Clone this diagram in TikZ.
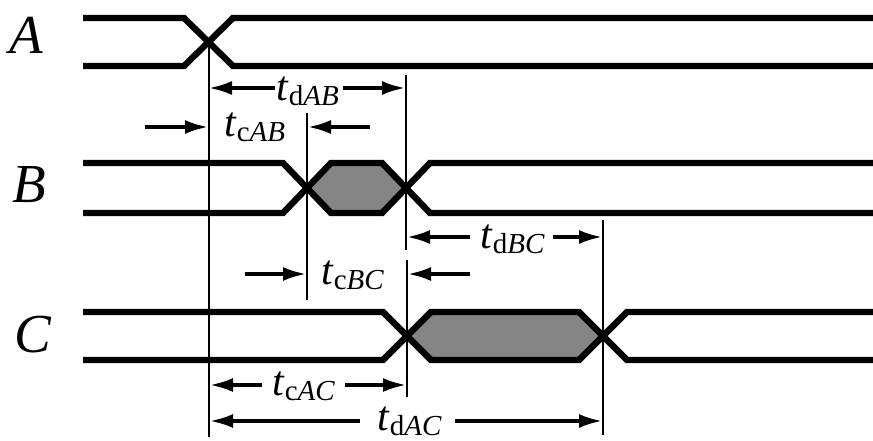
\documentclass[tikz,border=0pt]{standalone}
\usepackage{fontspec}
\setmainfont{Liberation Serif}
\usetikzlibrary{arrows.meta}
\newcommand{\tlab}[2]{{\fontsize{42}{42}\selectfont\itshape t}\kern1pt\raisebox{-5pt}{\fontsize{29}{29}\selectfont\upshape #1\itshape #2}}
\begin{document}
\begin{tikzpicture}[x=1pt,y=-1pt,
  sig/.style={line width=6.4pt},
  dim/.style={line width=2.3pt},
  arr/.style={line width=3.2pt,-{Latex[length=23pt,width=14pt]}},
  lab/.style={inner sep=0pt,anchor=base west},
  signame/.style={inner sep=0pt,anchor=base west,font=\fontsize{55}{55}\selectfont\itshape},
  hexfill/.style={fill=black!48}]
\useasboundingbox (0,0) rectangle (873,441);
% signal names
\node[signame] (nA) at (9,54) {A};
\node[signame] (nB) at (12,202) {B};
\node[signame] (nC) at (14,352) {C};
% signal A
\draw[sig] (83,18) -- (184,18) -- (233,66) -- (873,66);
\draw[sig] (83,66) -- (184,66) -- (233,18) -- (873,18);
% signal B
\fill[hexfill] (307,188) -- (331,163) -- (382,163) -- (406,188) -- (382,213) -- (331,213) -- cycle;
\draw[sig] (83,163) -- (283,163) -- (331,213) -- (382,213) -- (430,163) -- (873,163);
\draw[sig] (83,213) -- (283,213) -- (331,163) -- (382,163) -- (430,213) -- (873,213);
% signal C
\fill[hexfill] (407,336) -- (431,312) -- (579,312) -- (603,336) -- (579,360) -- (431,360) -- cycle;
\draw[sig] (83,312) -- (383,312) -- (431,360) -- (579,360) -- (627,312) -- (873,312);
\draw[sig] (83,360) -- (383,360) -- (431,312) -- (579,312) -- (627,360) -- (873,360);
% reference coordinates
\coordinate (vA1) at (209,42);  \coordinate (vA2) at (209,437);
\coordinate (vB1) at (307,113); \coordinate (vB2) at (307,300);
\coordinate (vD1) at (406,75);  \coordinate (vD2) at (406,250);
\coordinate (vE1) at (407,260); \coordinate (vE2) at (407,397);
\coordinate (vF1) at (603,220); \coordinate (vF2) at (603,435);
\draw[dim] (vA1) -- (vA2);
\draw[dim] (vB1) -- (vB2);
\draw[dim] (vD1) -- (vD2);
\draw[dim] (vE1) -- (vE2);
\draw[dim] (vF1) -- (vF2);
% t_dAB
\node[lab] (tdAB) at (276,101) {\tlab{d}{AB}};
\coordinate (dAB1) at (275,88); \coordinate (dAB1t) at (209,88);
\coordinate (dAB2) at (343,88); \coordinate (dAB2t) at (405,88);
\draw[arr] (dAB1) -- (dAB1t);
\draw[arr] (dAB2) -- (dAB2t);
% t_cAB
\node[lab] (tcAB) at (224,137) {\tlab{c}{AB}};
\coordinate (cAB1) at (145,127); \coordinate (cAB1t) at (208,127);
\coordinate (cAB2) at (370,127); \coordinate (cAB2t) at (308,127);
\draw[arr] (cAB1) -- (cAB1t);
\draw[arr] (cAB2) -- (cAB2t);
% t_dBC
\node[lab] (tdBC) at (480,248) {\tlab{d}{BC}};
\coordinate (dBC1) at (470,237); \coordinate (dBC1t) at (407,237);
\coordinate (dBC2) at (553,237); \coordinate (dBC2t) at (602,237);
\draw[arr] (dBC1) -- (dBC1t);
\draw[arr] (dBC2) -- (dBC2t);
% t_cBC
\node[lab] (tcBC) at (321,284) {\tlab{c}{BC}};
\coordinate (cBC1) at (245,274); \coordinate (cBC1t) at (306,274);
\coordinate (cBC2) at (470,274); \coordinate (cBC2t) at (408,274);
\draw[arr] (cBC1) -- (cBC1t);
\draw[arr] (cBC2) -- (cBC2t);
% t_cAC
\node[lab] (tcAC) at (272,395) {\tlab{c}{AC}};
\coordinate (cAC1) at (262,385); \coordinate (cAC1t) at (210,385);
\coordinate (cAC2) at (345,385); \coordinate (cAC2t) at (406,385);
\draw[arr] (cAC1) -- (cAC1t);
\draw[arr] (cAC2) -- (cAC2t);
% t_dAC
\node[lab] (tdAC) at (377,430) {\tlab{d}{AC}};
\coordinate (dAC1) at (360,421); \coordinate (dAC1t) at (210,421);
\coordinate (dAC2) at (455,421); \coordinate (dAC2t) at (602,421);
\draw[arr] (dAC1) -- (dAC1t);
\draw[arr] (dAC2) -- (dAC2t);
\end{tikzpicture}
\end{document}
